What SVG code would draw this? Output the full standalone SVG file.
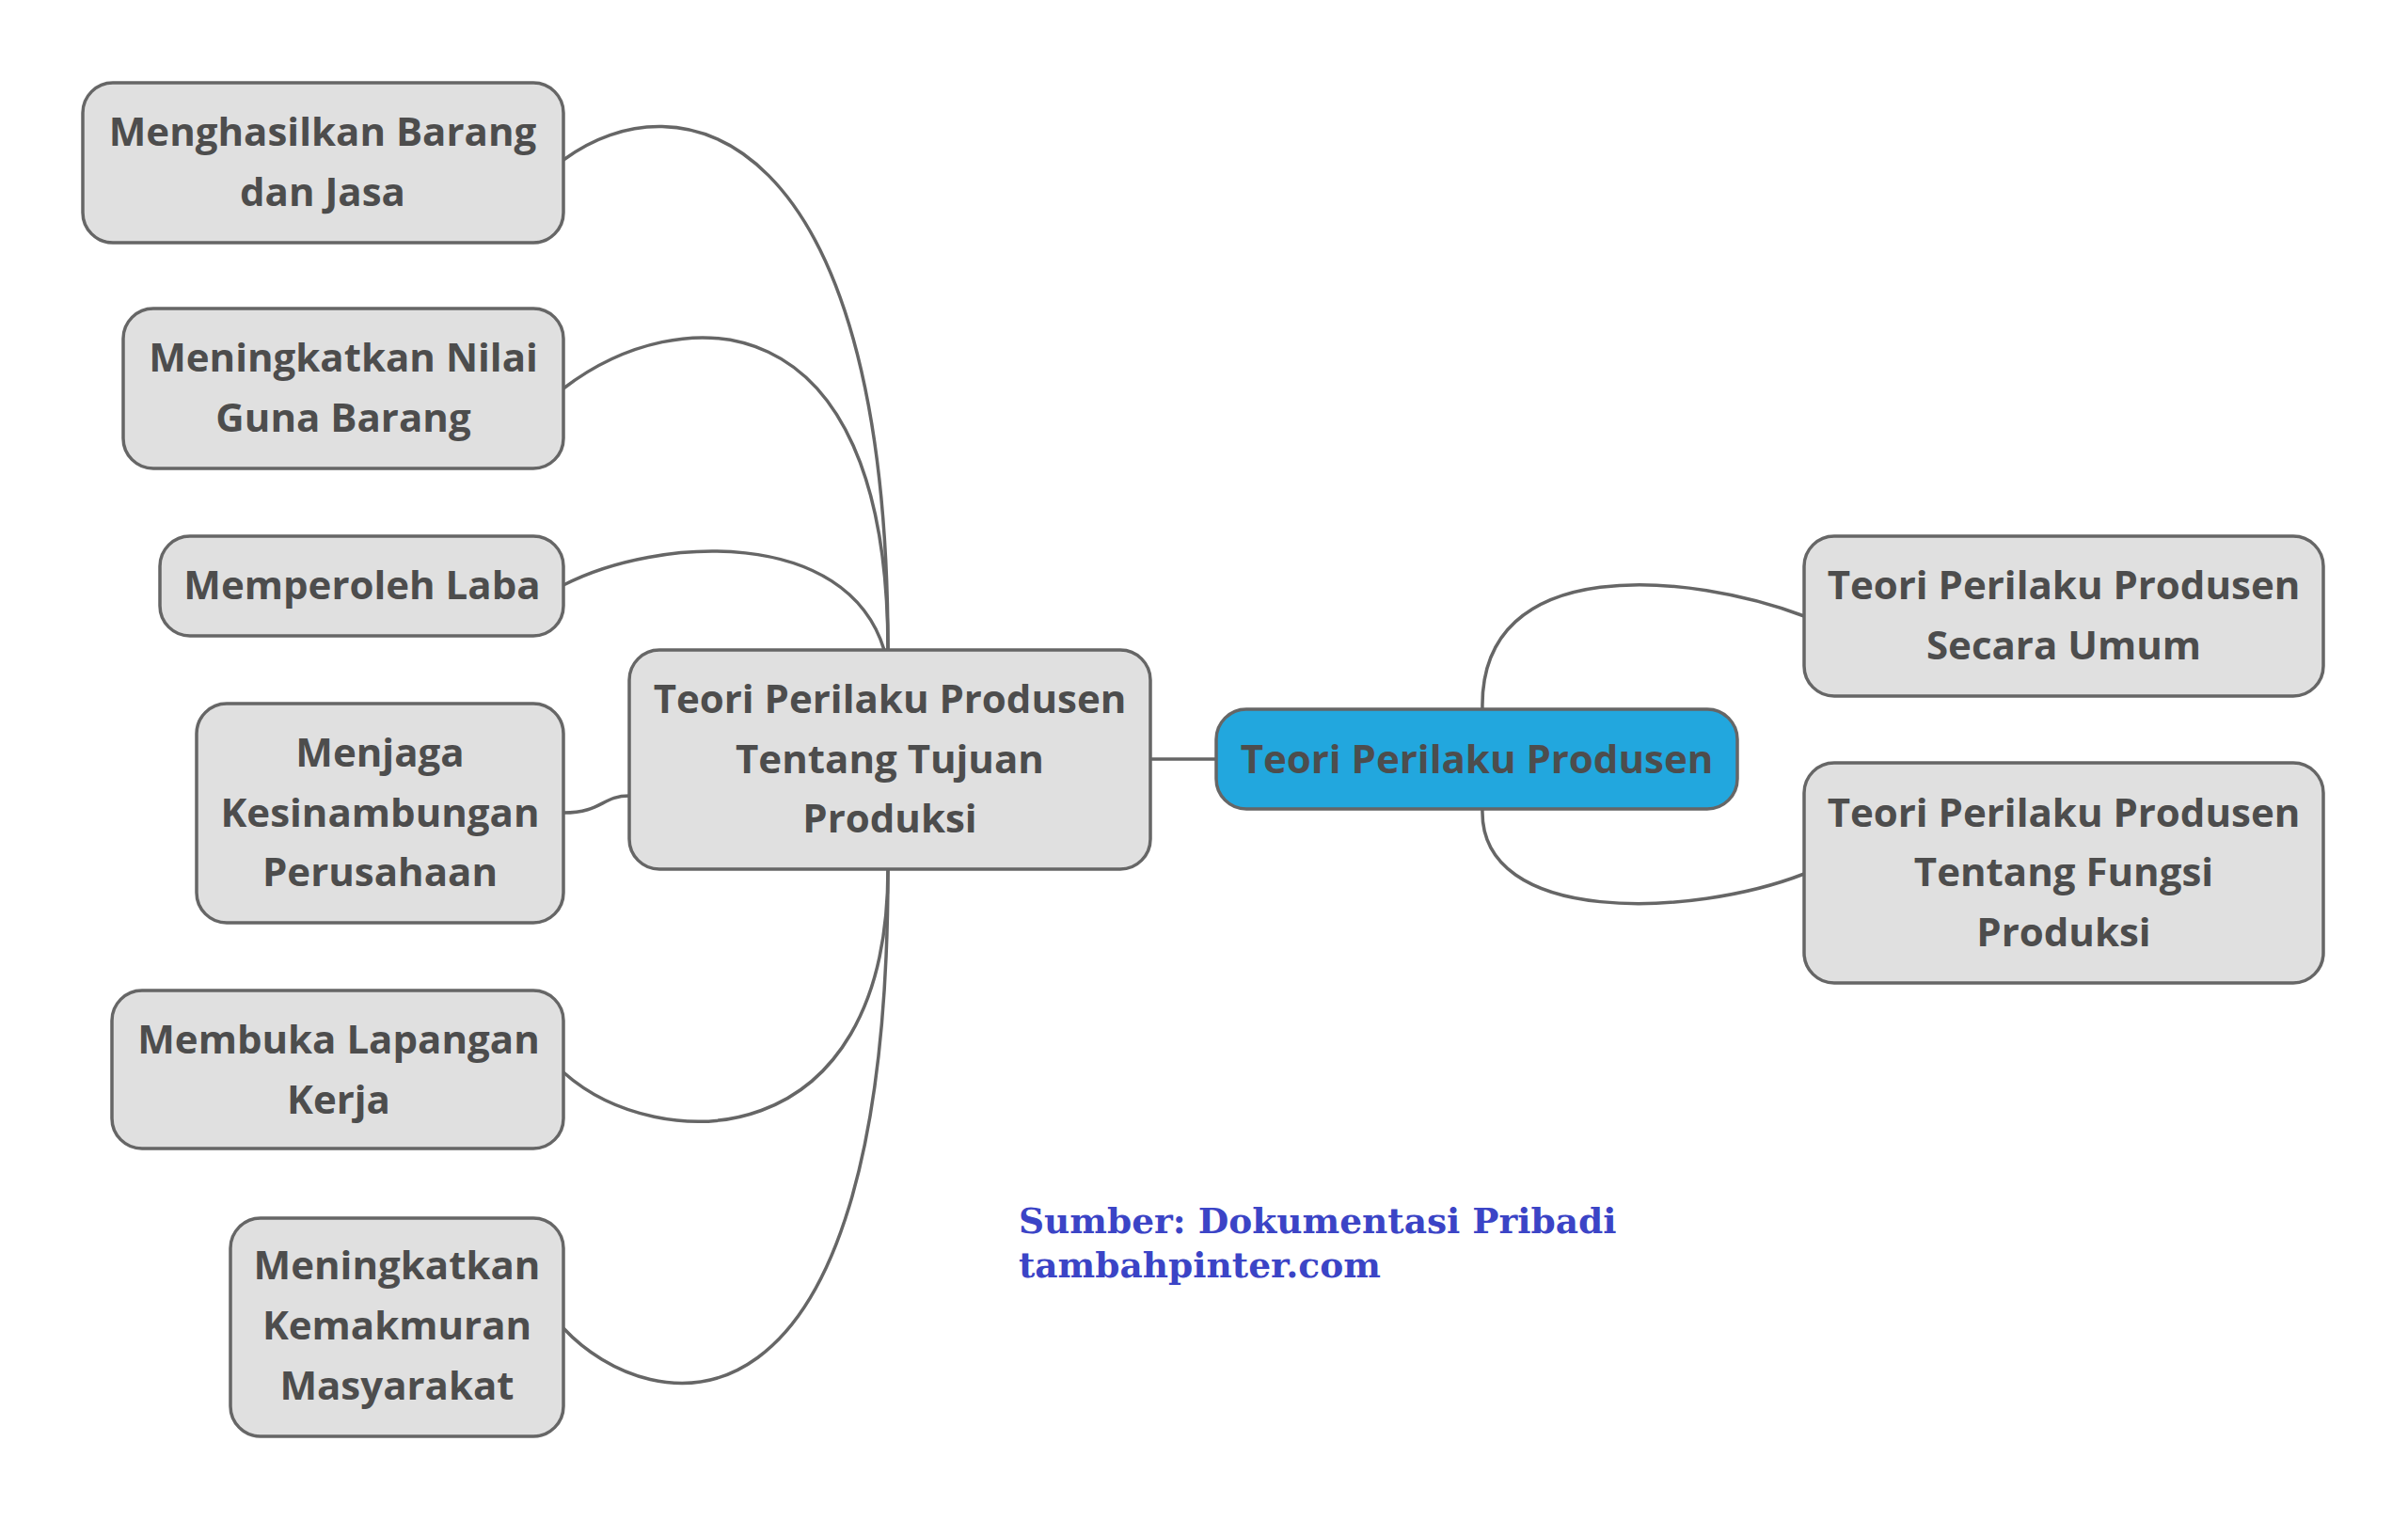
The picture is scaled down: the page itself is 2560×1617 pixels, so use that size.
<svg xmlns="http://www.w3.org/2000/svg" width="2560" height="1617" viewBox="0 0 2560 1617">
<style>
.box{fill:#e0e0e0;stroke:#666;stroke-width:3.5}
.root{fill:#22a7de;stroke:#666;stroke-width:3.5}
.t{font-family:"Open Sans","Noto Sans","DejaVu Sans",sans-serif;font-weight:700;font-size:42px;fill:#4d4d4d;text-anchor:middle}
.c{fill:none;stroke:#666;stroke-width:3.5}
.src{font-family:"DejaVu Serif","Liberation Serif",serif;font-weight:700;font-size:37.5px;fill:#3b44c6}
</style>
<rect width="2560" height="1617" fill="#fff"/>
<g id="connectors">
<path class="c" d="M599 170 C720 80 944 130 944 691"/>
<path class="c" d="M599 413 C720 320 944 310 944 691"/>
<path class="c" d="M599 622 C700 570 900 560 940 691"/>
<path class="c" d="M599 864 C640 864 640 846 669 846"/>
<path class="c" d="M599 1140 C700 1230 944 1230 944 924"/>
<path class="c" d="M599 1412 C690 1510 944 1560 944 924"/>
<path class="c" d="M1223 807 L1293 807"/>
<path class="c" d="M1576 754 C1572 585 1800 610 1918 655"/>
<path class="c" d="M1576 860 C1572 985 1800 975 1918 929"/>
</g>
<g id="n1"><rect class="box" x="88" y="88" width="511" height="170" rx="32"/><text class="t" x="343" y="155">Menghasilkan Barang</text><text class="t" x="343" y="219">dan Jasa</text></g>
<g id="n2"><rect class="box" x="131" y="328" width="468" height="170" rx="32"/><text class="t" x="365" y="395">Meningkatkan Nilai</text><text class="t" x="365" y="459">Guna Barang</text></g>
<g id="n3"><rect class="box" x="170" y="570" width="429" height="106" rx="32"/><text class="t" x="385" y="637">Memperoleh Laba</text></g>
<g id="n4"><rect class="box" x="209" y="748" width="390" height="233" rx="32"/><text class="t" x="404" y="815">Menjaga</text><text class="t" x="404" y="879">Kesinambungan</text><text class="t" x="404" y="942">Perusahaan</text></g>
<g id="n5"><rect class="box" x="119" y="1053" width="480" height="168" rx="32"/><text class="t" x="360" y="1120">Membuka Lapangan</text><text class="t" x="360" y="1184">Kerja</text></g>
<g id="n6"><rect class="box" x="245" y="1295" width="354" height="232" rx="32"/><text class="t" x="422" y="1360">Meningkatkan</text><text class="t" x="422" y="1424">Kemakmuran</text><text class="t" x="422" y="1488">Masyarakat</text></g>
<g id="mid"><rect class="box" x="669" y="691" width="554" height="233" rx="32"/><text class="t" x="946" y="758">Teori Perilaku Produsen</text><text class="t" x="946" y="822">Tentang Tujuan</text><text class="t" x="946" y="885">Produksi</text></g>
<g id="root"><rect class="root" x="1293" y="754" width="554" height="106" rx="32"/><text class="t" x="1570" y="822">Teori Perilaku Produsen</text></g>
<g id="r1"><rect class="box" x="1918" y="570" width="552" height="170" rx="32"/><text class="t" x="2194" y="637">Teori Perilaku Produsen</text><text class="t" x="2194" y="701">Secara Umum</text></g>
<g id="r2"><rect class="box" x="1918" y="811" width="552" height="234" rx="32"/><text class="t" x="2194" y="879">Teori Perilaku Produsen</text><text class="t" x="2194" y="942">Tentang Fungsi</text><text class="t" x="2194" y="1006">Produksi</text></g>
<g id="source"><text class="src" x="1083" y="1311">Sumber: Dokumentasi Pribadi</text><text class="src" x="1083" y="1358">tambahpinter.com</text></g>
</svg>
